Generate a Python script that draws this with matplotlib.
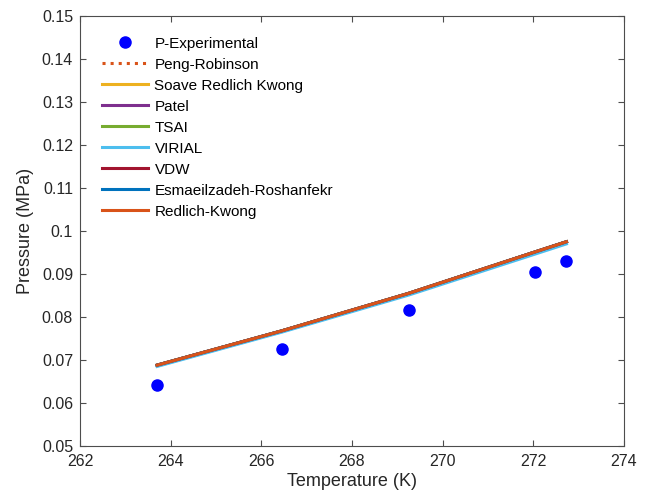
import matplotlib
matplotlib.use("Agg")
import matplotlib.pyplot as plt

plt.rcParams['font.family'] = ['Liberation Sans', 'DejaVu Sans']

# measured vapour pressure
T_exp = [263.70, 266.46, 269.25, 272.03, 272.73]
P_exp = [0.0642, 0.0726, 0.0816, 0.0905, 0.0931]

# equation-of-state predictions at the same temperatures
T_eos = [263.70, 266.46, 269.25, 272.03, 272.73]
P_peng_robinson = [0.0688, 0.0768, 0.0855, 0.0951, 0.0975]
P_srk = [0.0688, 0.0768, 0.0855, 0.0951, 0.0975]
P_patel = [0.0688, 0.0768, 0.0855, 0.0951, 0.0975]
P_tsai = [0.0688, 0.0768, 0.0855, 0.0951, 0.0975]
P_virial = [0.0685, 0.0765, 0.0851, 0.0946, 0.0970]
P_vdw = [0.0688, 0.0768, 0.0855, 0.0951, 0.0975]
P_esmaeilzadeh = [0.0688, 0.0768, 0.0855, 0.0951, 0.0975]
P_redlich_kwong = [0.0688, 0.0768, 0.0855, 0.0951, 0.0975]

xticks = [262, 264, 266, 268, 270, 272, 274]
yticks = [0.05, 0.06, 0.07, 0.08, 0.09, 0.10, 0.11, 0.12, 0.13, 0.14, 0.15]
ytick_labels = ['0.05', '0.06', '0.07', '0.08', '0.09', '0.1',
                '0.11', '0.12', '0.13', '0.14', '0.15']

fig = plt.figure(figsize=(6.48, 5.01), dpi=100)
ax = fig.add_axes([0.1235, 0.1098, 0.8395, 0.8583])

lw = 2.2
ax.plot(T_exp, P_exp, 'o', color='#0000ff', markersize=8, label='P-Experimental')
ax.plot(T_eos, P_peng_robinson, ':', color='#D95319', lw=lw, label='Peng-Robinson')
ax.plot(T_eos, P_srk, '-', color='#EDB120', lw=lw, label='Soave Redlich Kwong')
ax.plot(T_eos, P_patel, '-', color='#7E2F8E', lw=lw, label='Patel')
ax.plot(T_eos, P_tsai, '-', color='#77AC30', lw=lw, label='TSAI')
ax.plot(T_eos, P_virial, '-', color='#4DBEEE', lw=lw, label='VIRIAL')
ax.plot(T_eos, P_vdw, '-', color='#A2142F', lw=lw, label='VDW')
ax.plot(T_eos, P_esmaeilzadeh, '-', color='#0072BD', lw=lw, label='Esmaeilzadeh-Roshanfekr')
ax.plot(T_eos, P_redlich_kwong, '-', color='#D95319', lw=lw, label='Redlich-Kwong')

ax.set_xlim(262, 274)
ax.set_ylim(0.05, 0.15)
ax.set_xticks(xticks)
ax.set_xticklabels([str(t) for t in xticks])
ax.set_yticks(yticks)
ax.set_yticklabels(ytick_labels)

axis_color = '0.3'
for side in ['left', 'right', 'top', 'bottom']:
    ax.spines[side].set_color(axis_color)
    ax.spines[side].set_linewidth(0.8)
ax.tick_params(direction='in', length=4, width=0.8, color=axis_color,
               labelcolor='0.15', labelsize=11.5, top=True, right=True)
ax.tick_params(axis='x', pad=6)
ax.tick_params(axis='y', pad=5)

ax.set_xlabel('Temperature (K)', fontsize=13, color='0.15', labelpad=3)
ax.set_ylabel('Pressure (MPa)', fontsize=13, color='0.15', labelpad=6)

ax.legend(loc='upper left', bbox_to_anchor=(0.04, 0.952), frameon=False,
          fontsize=11, numpoints=1, handlelength=3.0, handletextpad=0.45,
          labelspacing=0.46, borderpad=0, borderaxespad=0)

fig.savefig('out.png', dpi=100)
